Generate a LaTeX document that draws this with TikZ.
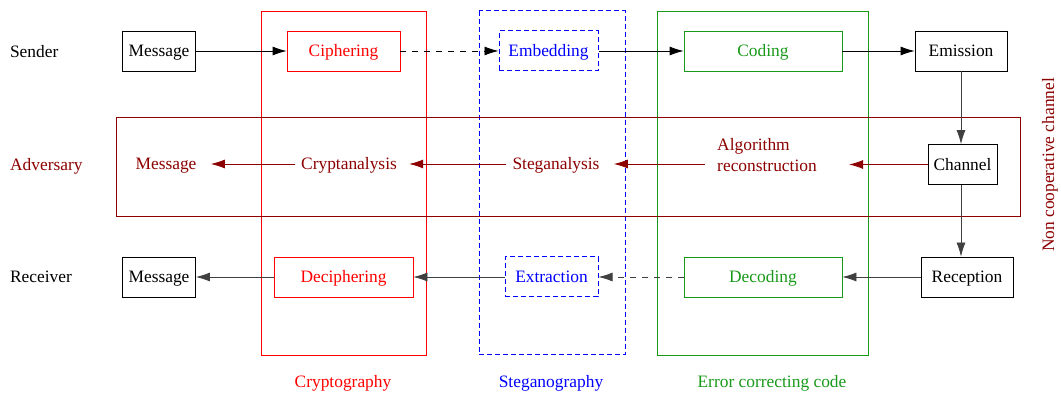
\documentclass[tikz,border=0pt]{standalone}
\usepackage{fontspec}
\setmainfont{Liberation Serif}
\usetikzlibrary{arrows.meta}

\definecolor{advred}{rgb}{0.55,0,0}
\definecolor{eccgreen}{rgb}{0.1,0.6,0.1}
\definecolor{stegblue}{rgb}{0,0,1}

\tikzset{
  box/.style={draw,minimum height=20pt,inner sep=2pt,text height=6pt,text depth=0pt},
  stegline/.style={color=stegblue,line width=0.5pt,dash pattern=on 2.5pt off 1.5pt},
  advtext/.style={text=advred,inner sep=3pt,text height=6pt,text depth=0pt},
  arr/.style={-{Latex[length=7pt,width=4.5pt]}},
  advarr/.style={arr,advred,shorten >=3pt},
  lowarr/.style={arr,black!75},
}

\begin{document}
\begin{tikzpicture}[x=0.5pt,y=-0.5pt,font=\fontsize{8.7}{10.5}\selectfont]
  \useasboundingbox (0,0) rectangle (1061,394);
  % frames
  \draw[red] (261,11) rectangle (426,355);
  \draw[stegline] (479,11) rectangle (625,355);
  \draw[eccgreen] (657,11) rectangle (868,355);
  \draw[advred] (116,117) rectangle (1020,216);
  % row labels
  \node[anchor=west,text height=6pt,text depth=0pt] (sender) at (3,52) {Sender};
  \node[anchor=west,advred,text height=6pt,text depth=0pt] (adversary) at (3,165) {Adversary};
  \node[anchor=west,text height=6pt,text depth=0pt] (receiver) at (3,277) {Receiver};
  % sender row
  \node[box,minimum width=36.5pt] (msgS) at (159,51) {Message};
  \node[box,red,minimum width=56.5pt] (ciph) at (343.5,51) {Ciphering};
  \node[box,stegline,minimum width=49.5pt] (emb) at (548.5,51) {Embedding};
  \node[box,eccgreen,minimum width=79pt] (cod) at (763,51) {Coding};
  \node[box,minimum width=46pt] (emis) at (961,51) {Emission};
  % channel
  \node[box,minimum width=34.5pt] (chan) at (962.5,164.5) {Channel};
  % receiver row
  \node[box,minimum width=46pt] (recp) at (967,277) {Reception};
  \node[box,eccgreen,minimum width=79pt] (dec) at (763,277) {Decoding};
  \node[box,stegline,minimum width=46.5pt] (extr) at (551.5,277) {Extraction};
  \node[box,red,minimum width=69.5pt] (deciph) at (343.5,277) {Deciphering};
  \node[box,minimum width=36.5pt] (msgR) at (159,277) {Message};
  % adversary row
  \node[advtext] (msgA) at (166,164) {Message};
  \node[advtext] (crypta) at (349,164) {Cryptanalysis};
  \node[advtext] (stega) at (556,164) {Steganalysis};
  \node[advtext,align=left,inner sep=6pt] (algo) at (767,166) {Algorithm\\reconstruction};
  % arrows
  \draw[arr] (msgS) -- (ciph);
  \draw[arr,dashed] (ciph) -- (emb);
  \draw[arr] (emb) -- (cod);
  \draw[arr] (cod) -- (emis);
  \draw[lowarr] (emis) -- (emis |- chan.north);
  \draw[lowarr] (emis |- chan.south) -- (emis |- recp.north);
  \draw[lowarr] (recp) -- (dec);
  \draw[lowarr,dashed] (dec) -- (extr);
  \draw[lowarr] (extr) -- (deciph);
  \draw[lowarr] (deciph) -- (msgR);
  \draw[advarr,shorten >=10pt] (chan) -- (chan -| algo.east);
  \draw[advarr,shorten >=4pt] (algo.west |- stega) -- (stega);
  \draw[advarr] (stega) -- (crypta);
  \draw[advarr,shorten >=4pt] (crypta) -- (msgA);
  % labels
  \node[red] (lcrypt) at (343,383) {Cryptography};
  \node[stegblue] (lsteg) at (551,383) {Steganography};
  \node[eccgreen] (lecc) at (772,383) {Error correcting code};
  \node[rotate=90,advred] (lnoncoop) at (1050,165) {Non cooperative channel};
\end{tikzpicture}
\end{document}
